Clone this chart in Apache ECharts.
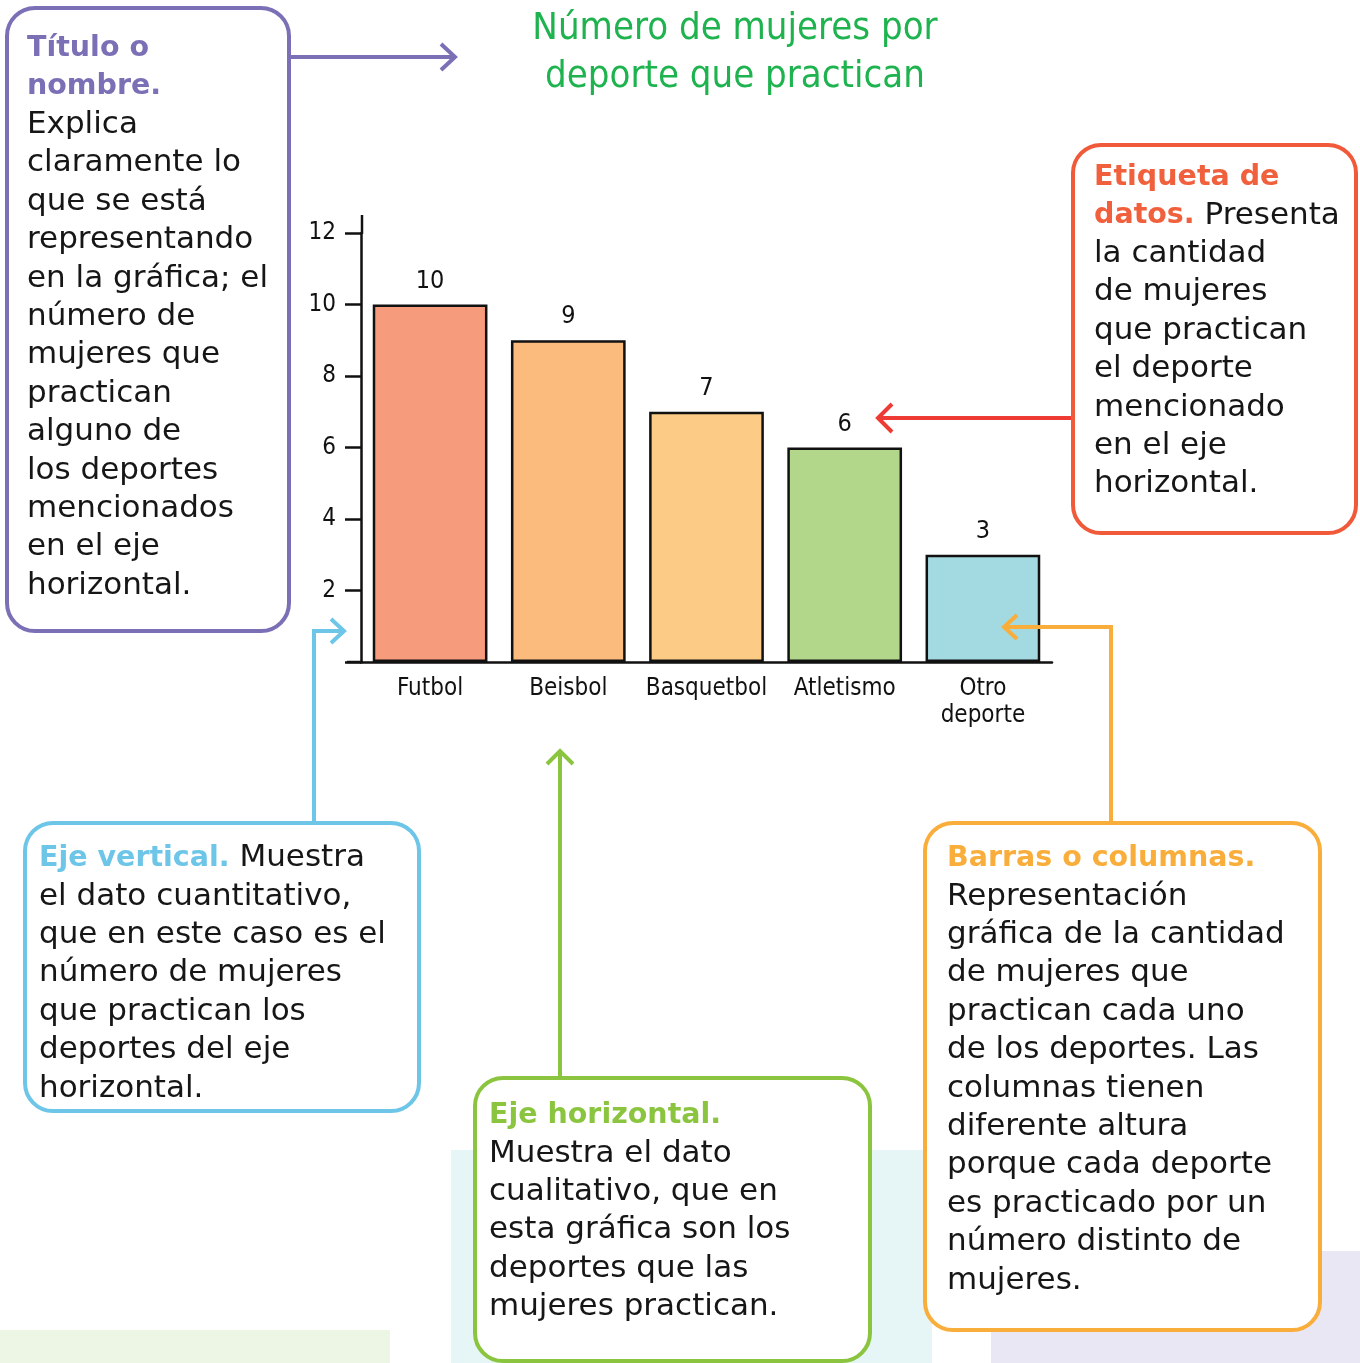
<!DOCTYPE html>
<html>
<head>
<meta charset="utf-8">
<script src="https://cdn.jsdelivr.net/npm/echarts@6/dist/echarts.min.js"></script>
<style>
html,body{margin:0;padding:0;background:#fff;}
#c{width:1360px;height:1363px;}
</style>
</head>
<body>
<div id="c"></div>
<script>
const categories = ['Futbol', 'Beisbol', 'Basquetbol', 'Atletismo', 'Otro\ndeporte'];
const values = [10, 9, 7, 6, 3];
const barColors = ['#f69b7b', '#fabb7d', '#fccc86', '#b2d78b', '#a3d9e1'];
const chartTitle = 'Número de mujeres por\ndeporte que practican';

const HAND = '"DejaVu Sans Condensed", "DejaVu Sans", sans-serif';
const BODY = '"DejaVu Sans", sans-serif';
const BFS = 31;
const TFS = 28.5;
const LH = 38.4;

function richText(titleColor) {
  return {
    t: { fill: titleColor, fontWeight: 'bold', fontSize: TFS, fontFamily: BODY, lineHeight: LH },
    n: { fill: '#161616', fontWeight: 'normal', fontSize: BFS, fontFamily: BODY, lineHeight: LH }
  };
}
function box(x, y, w, h, color) {
  return { type: 'rect', z: 10, shape: { x: x, y: y, width: w, height: h, r: 28 },
    style: { fill: '#fff', stroke: color, lineWidth: 4 } };
}
function line(points, color) {
  return { type: 'polyline', z: 5, shape: { points: points },
    style: { stroke: color, lineWidth: 4, fill: null, lineJoin: 'miter' } };
}
function text(x, y, str, titleColor) {
  return { type: 'text', z: 20, left: x, top: y,
    style: { text: str, rich: richText(titleColor), fontSize: BFS, fontFamily: BODY, lineHeight: LH, fill: '#161616' } };
}

const purple = '#7b70b6', redOr = '#f05a3a', red = '#ee3b33', blue = '#6dc5e8', green = '#8bc53f', orange = '#f9ae3b';

const graphics = [
  { type: 'rect', z: 0, shape: { x: 0, y: 1330, width: 390, height: 40 }, style: { fill: '#edf5e5' } },
  { type: 'rect', z: 0, shape: { x: 451, y: 1150, width: 481, height: 220 }, style: { fill: '#e6f5f5' } },
  { type: 'rect', z: 0, shape: { x: 991, y: 1251, width: 369, height: 120 }, style: { fill: '#e9e7f3' } },

  // axis extensions
  { type: 'line', z: 3, shape: { x1: 347, y1: 662, x2: 363, y2: 662 }, style: { stroke: '#111', lineWidth: 2.5 } },
  { type: 'line', z: 3, shape: { x1: 362, y1: 215, x2: 362, y2: 234 }, style: { stroke: '#111', lineWidth: 2.5 } },

  // arrows
  line([[289, 57], [455, 57]], purple),
  line([[441, 44], [455, 57], [441, 70]], purple),
  line([[1073, 418], [878, 418]], red),
  line([[892, 404], [878, 418], [892, 432]], red),
  line([[314, 823], [314, 631], [343, 631]], blue),
  line([[331, 619], [344, 631], [331, 643]], blue),
  line([[560, 1078], [560, 751]], green),
  line([[547, 764], [560, 751], [573, 764]], green),
  line([[1111, 823], [1111, 627], [1004, 627]], orange),
  line([[1017, 615], [1004, 627], [1017, 639]], orange),

  // boxes
  box(7, 8, 282, 623, purple),
  box(1073, 145, 283, 388, redOr),
  box(25, 823, 394, 288, blue),
  box(475, 1078, 395, 283, green),
  box(925, 823, 395, 507, orange),

  text(27, 29, '{t|Título o}\n{t|nombre.}\n{n|Explica}\n{n|claramente lo}\n{n|que se está}\n{n|representando}\n{n|en la gráfica; el}\n{n|número de}\n{n|mujeres que}\n{n|practican}\n{n|alguno de}\n{n|los deportes}\n{n|mencionados}\n{n|en el eje}\n{n|horizontal.}', purple),
  text(1094, 158, '{t|Etiqueta de}\n{t|datos.}{n| Presenta}\n{n|la cantidad}\n{n|de mujeres}\n{n|que practican}\n{n|el deporte}\n{n|mencionado}\n{n|en el eje}\n{n|horizontal.}', '#f0603c'),
  text(39, 839, '{t|Eje vertical.}{n| Muestra}\n{n|el dato cuantitativo,}\n{n|que en este caso es el}\n{n|número de mujeres}\n{n|que practican los}\n{n|deportes del eje}\n{n|horizontal.}', blue),
  text(489, 1096, '{t|Eje horizontal.}\n{n|Muestra el dato}\n{n|cualitativo, que en}\n{n|esta gráfica son los}\n{n|deportes que las}\n{n|mujeres practican.}', green),
  text(947, 839, '{t|Barras o columnas.}\n{n|Representación}\n{n|gráfica de la cantidad}\n{n|de mujeres que}\n{n|practican cada uno}\n{n|de los deportes. Las}\n{n|columnas tienen}\n{n|diferente altura}\n{n|porque cada deporte}\n{n|es practicado por un}\n{n|número distinto de}\n{n|mujeres.}', orange)
];

const chart = echarts.init(document.getElementById('c'));
chart.setOption({
  backgroundColor: '#fff',
  animation: false,
  title: {
    text: chartTitle, left: 730, top: 0, textAlign: 'center',
    textStyle: { color: '#1eb34f', fontFamily: HAND, fontSize: 38, fontWeight: 'normal', lineHeight: 48 }
  },
  grid: { left: 361, top: 233, width: 691, height: 429, containLabel: false },
  xAxis: {
    type: 'category', data: categories,
    axisLine: { lineStyle: { color: '#111', width: 2.5 } },
    axisTick: { show: false },
    axisLabel: { color: '#111', fontFamily: HAND, fontSize: 24, margin: 13, lineHeight: 27, interval: 0 }
  },
  yAxis: {
    type: 'value', min: 0, max: 12, interval: 2,
    splitLine: { show: false },
    axisLine: { show: true, lineStyle: { color: '#111', width: 2.5 } },
    axisTick: { show: true, length: 16, lineStyle: { color: '#111', width: 2.5 } },
    axisLabel: { color: '#111', fontFamily: HAND, fontSize: 24, margin: 25,
      formatter: function (v) { return v === 0 ? '' : String(v); } }
  },
  series: [{
    type: 'bar', data: values.map(function (v, i) {
      return { value: v, itemStyle: { color: barColors[i] } };
    }),
    barCategoryGap: '17%',
    itemStyle: { borderColor: '#111', borderWidth: 2.5 },
    label: { show: true, position: 'top', distance: 11, color: '#111', fontFamily: HAND, fontSize: 25 }
  }],
  graphic: graphics
});
</script>
</body>
</html>
